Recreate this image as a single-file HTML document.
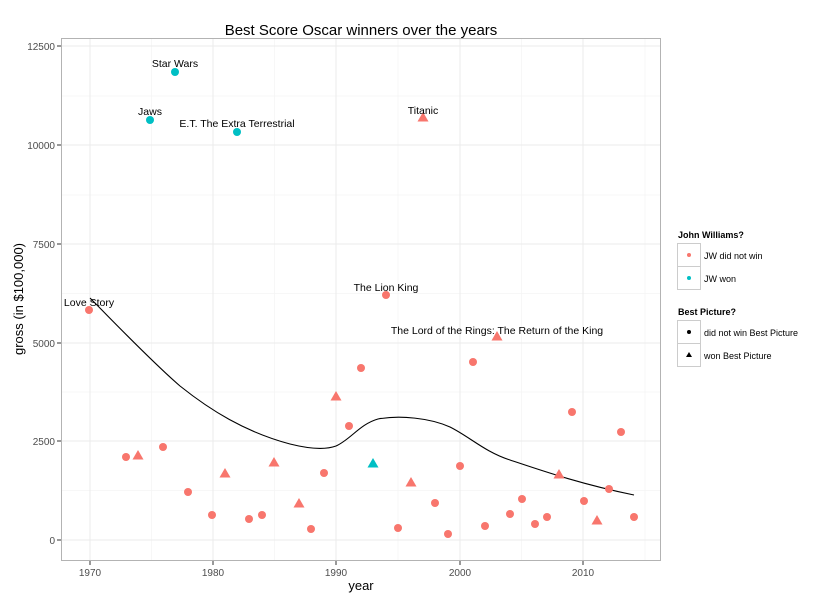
<!DOCTYPE html>
<html><head><meta charset="utf-8"><style>body{margin:0;background:#fff}svg{display:block}text{font-family:"Liberation Sans",sans-serif}</style></head><body>
<svg width="840" height="600" xmlns="http://www.w3.org/2000/svg">
<rect x="61.5" y="38.5" width="599" height="522" fill="#fff" stroke="#b3b3b3"/>
<g stroke="#f4f4f4" stroke-width="0.7">
<line x1="62" x2="660" y1="490.5" y2="490.5"/><line x1="62" x2="660" y1="392" y2="392"/><line x1="62" x2="660" y1="293.5" y2="293.5"/><line x1="62" x2="660" y1="195" y2="195"/><line x1="62" x2="660" y1="96" y2="96"/>
<line x1="151.5" x2="151.5" y1="39" y2="560"/><line x1="274.5" x2="274.5" y1="39" y2="560"/><line x1="398" x2="398" y1="39" y2="560"/><line x1="521.5" x2="521.5" y1="39" y2="560"/><line x1="645" x2="645" y1="39" y2="560"/>
</g>
<g stroke="#ebebeb" stroke-width="1">
<line x1="62" x2="660" y1="540" y2="540"/><line x1="62" x2="660" y1="441" y2="441"/><line x1="62" x2="660" y1="343" y2="343"/><line x1="62" x2="660" y1="244" y2="244"/><line x1="62" x2="660" y1="145" y2="145"/><line x1="62" x2="660" y1="46" y2="46"/>
<line x1="90" x2="90" y1="39" y2="560"/><line x1="213" x2="213" y1="39" y2="560"/><line x1="336" x2="336" y1="39" y2="560"/><line x1="460" x2="460" y1="39" y2="560"/><line x1="583" x2="583" y1="39" y2="560"/>
</g>
<g stroke="#333" stroke-width="1">
<line x1="57" x2="61" y1="540" y2="540"/><line x1="57" x2="61" y1="441" y2="441"/><line x1="57" x2="61" y1="343" y2="343"/><line x1="57" x2="61" y1="244" y2="244"/><line x1="57" x2="61" y1="145" y2="145"/><line x1="57" x2="61" y1="46" y2="46"/>
<line x1="90" x2="90" y1="561" y2="565"/><line x1="213" x2="213" y1="561" y2="565"/><line x1="336" x2="336" y1="561" y2="565"/><line x1="460" x2="460" y1="561" y2="565"/><line x1="583" x2="583" y1="561" y2="565"/>
</g>
<g font-size="10" fill="#4d4d4d" text-anchor="end">
<text x="55" y="544">0</text><text x="55" y="445">2500</text><text x="55" y="347">5000</text><text x="55" y="248">7500</text><text x="55" y="149">10000</text><text x="55" y="50">12500</text>
</g>
<g font-size="10" fill="#4d4d4d" text-anchor="middle">
<text x="90" y="576">1970</text><text x="213" y="576">1980</text><text x="336" y="576">1990</text><text x="460" y="576">2000</text><text x="583" y="576">2010</text>
</g>
<text x="361" y="590" font-size="13" text-anchor="middle">year</text>
<text transform="translate(23,299) rotate(-90)" font-size="13" text-anchor="middle">gross (in $100,000)</text>
<text x="361" y="35" font-size="15" text-anchor="middle">Best Score Oscar winners over the years</text>
<path d="M90,298 C110,318 150,360 180,386 C210,410 245,432 290,444 C310,449 325,450 336,446 C350,440 360,424 378,419 C400,415 430,418 450,427 C470,437 485,452 510,460 C540,470 580,484 634,495" fill="none" stroke="#000" stroke-width="1.1"/>
<g fill="#f8766d">
<circle cx="89" cy="310" r="4"/><circle cx="386" cy="295" r="4"/>
<circle cx="126" cy="457" r="4"/><circle cx="163" cy="447" r="4"/><circle cx="188" cy="492" r="4"/><circle cx="212" cy="515" r="4"/><circle cx="249" cy="519" r="4"/><circle cx="262" cy="515" r="4"/><circle cx="311" cy="529" r="4"/><circle cx="324" cy="473" r="4"/><circle cx="349" cy="426" r="4"/><circle cx="361" cy="368" r="4"/><circle cx="398" cy="528" r="4"/><circle cx="435" cy="503" r="4"/><circle cx="448" cy="534" r="4"/><circle cx="460" cy="466" r="4"/><circle cx="473" cy="362" r="4"/><circle cx="485" cy="526" r="4"/><circle cx="510" cy="514" r="4"/><circle cx="522" cy="499" r="4"/><circle cx="535" cy="524" r="4"/><circle cx="547" cy="517" r="4"/><circle cx="572" cy="412" r="4"/><circle cx="584" cy="501" r="4"/><circle cx="609" cy="489" r="4"/><circle cx="621" cy="432" r="4"/><circle cx="634" cy="517" r="4"/>
</g>
<g fill="#f8766d">
<path d="M138,450l5.5,9.5h-11z"/><path d="M225,468l5.5,9.5h-11z"/><path d="M274,457l5.5,9.5h-11z"/><path d="M299,498l5.5,9.5h-11z"/><path d="M336,391l5.5,9.5h-11z"/><path d="M411,477l5.5,9.5h-11z"/><path d="M559,469l5.5,9.5h-11z"/><path d="M597,515l5.5,9.5h-11z"/><path d="M497,331l5.5,9.5h-11z"/><path d="M423,112l5.5,9.5h-11z"/>
</g>
<g fill="#00bfc4">
<path d="M373,458l5.5,9.5h-11z"/><circle cx="175" cy="72" r="4"/><circle cx="150" cy="120" r="4"/><circle cx="237" cy="132" r="4"/>
</g>
<g font-size="10.5" text-anchor="middle" fill="#000">
<text x="175" y="67">Star Wars</text><text x="150" y="115">Jaws</text><text x="237" y="127">E.T. The Extra Terrestrial</text><text x="423" y="114">Titanic</text><text x="386" y="291">The Lion King</text><text x="497" y="334">The Lord of the Rings: The Return of the King</text><text x="89" y="306">Love Story</text>
</g>
<text x="678" y="238" font-size="9" font-weight="bold">John Williams?</text>
<rect x="677.5" y="243.5" width="23" height="23" fill="#fff" stroke="#ccc"/><rect x="677.5" y="266.5" width="23" height="23" fill="#fff" stroke="#ccc"/>
<circle cx="689" cy="255" r="2" fill="#f8766d"/><circle cx="689" cy="278" r="2" fill="#00bfc4"/>
<text x="704" y="259" font-size="9">JW did not win</text><text x="704" y="282" font-size="9">JW won</text>
<text x="678" y="315" font-size="9" font-weight="bold">Best Picture?</text>
<rect x="677.5" y="320.5" width="23" height="23" fill="#fff" stroke="#ccc"/><rect x="677.5" y="343.5" width="23" height="23" fill="#fff" stroke="#ccc"/>
<circle cx="689" cy="332" r="2" fill="#000"/><path d="M689,352l3,5h-6z" fill="#000"/>
<text x="704" y="336" font-size="9">did not win Best Picture</text><text x="704" y="359" font-size="9">won Best Picture</text>
</svg>
</body></html>
